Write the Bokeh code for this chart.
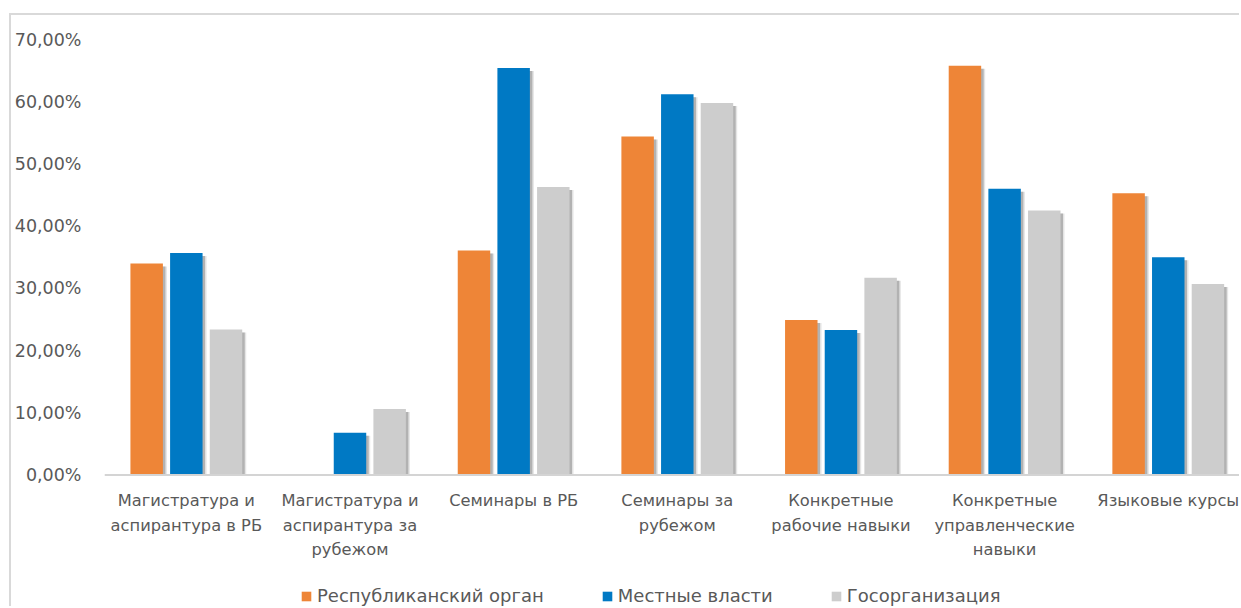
from bokeh.plotting import figure
from bokeh.models import (ColumnDataSource, Range1d, FixedTicker, Span,
                          CustomJSTickFormatter, Legend, LegendItem)
from bokeh.core.properties import value
from bokeh.embed import file_html
from bokeh.resources import INLINE

# Training types (x-axis categories, line breaks as printed under the axis)
categories = [
    "Магистратура и\nаспирантура в РБ",
    "Магистратура и\nаспирантура за\nрубежом",
    "Семинары в РБ",
    "Семинары за\nрубежом",
    "Конкретные\nрабочие навыки",
    "Конкретные\nуправленческие\nнавыки",
    "Языковые курсы",
]

series_names = ["Республиканский орган", "Местные власти", "Госорганизация"]

# Share of respondents, percent
republican = [34.0, 0.0, 36.1, 54.4, 24.9, 65.8, 45.3]
local_gov = [35.7, 6.8, 65.4, 61.2, 23.3, 46.0, 35.0]
state_org = [23.4, 10.6, 46.3, 59.8, 31.7, 42.5, 30.7]

y_ticks = [0, 10, 20, 30, 40, 50, 60, 70]

COLORS = ["#EE8537", "#0079C4", "#CDCDCD"]
FONT = "DejaVu Sans"
TEXT_COLOR = "#595959"

# layout in pixels
WIDTH, HEIGHT = 1230, 593
LEFT, TOP = 92, 24
FRAME_W = WIDTH - LEFT
CAT_PX = 163.8           # width of one category slot
PLOT_H = 435.5           # height of the 0..70 % band
Y_MAX = 70
px_y = Y_MAX / PLOT_H    # percent per pixel
# the frame continues below zero to hold category labels and legend
Y_MIN = -(HEIGHT - TOP - PLOT_H) * px_y

bar_w = 32.5 / CAT_PX
step = 39.7 / CAT_PX
shadow_dx = 2.5 / CAT_PX
shadow_dy = 3.0 * px_y

p = figure(
    width=WIDTH, height=HEIGHT,
    x_range=Range1d(0, FRAME_W / CAT_PX),
    y_range=Range1d(Y_MIN, Y_MAX),
    output_backend="svg", toolbar_location=None,
    min_border_left=LEFT, min_border_top=TOP,
    min_border_right=0, min_border_bottom=0,
    outline_line_color=None,
    background_fill_color="white", border_fill_color="white",
)
p.margin = (13, 0, 0, 9)
p.styles = {"border-top": "2px solid #D9D9D9", "border-left": "2px solid #D9D9D9"}

p.xgrid.visible = False
p.ygrid.visible = False
p.xaxis.visible = False

centers = [i + 0.5 for i in range(len(categories))]
all_series = [republican, local_gov, state_org]
renderers = []
for k, (vals, color) in enumerate(zip(all_series, COLORS)):
    xs = [c + (k - 1) * step for c in centers]
    sh_top = [max(v - shadow_dy, 0) for v in vals]
    # soft drop shadow to the right of each bar
    p.vbar(x=[x + shadow_dx * 1.6 for x in xs], top=sh_top, width=bar_w,
           fill_color="#7F7F7F", fill_alpha=0.2, line_color=None)
    p.vbar(x=[x + shadow_dx for x in xs], top=sh_top, width=bar_w,
           fill_color="#7F7F7F", fill_alpha=0.5, line_color=None)
    src = ColumnDataSource(dict(x=xs, top=vals))
    r = p.vbar(x="x", top="top", width=bar_w, source=src,
               fill_color=color, line_color=None)
    renderers.append(r)

# category axis line
p.add_layout(Span(location=0, dimension="width", line_color="#D4D4D4", line_width=2))

# category labels under the axis line
p.text(x=centers, y=[0] * len(centers), text=categories,
       y_offset=16, text_align="center", text_baseline="top",
       text_font=value(FONT), text_font_size="16.3px", text_color=TEXT_COLOR,
       text_line_height=1.3)

# y axis
yax = p.yaxis[0]
yax.ticker = FixedTicker(ticks=y_ticks)
yax.formatter = CustomJSTickFormatter(
    code="return tick.toFixed(2).replace('.', ',') + '%';")
yax.axis_line_color = None
yax.major_tick_line_color = None
yax.minor_tick_line_color = None
yax.major_tick_in = 0
yax.major_tick_out = 0
yax.major_label_standoff = 23
yax.major_label_text_font = FONT
yax.major_label_text_font_size = "17.5px"
yax.major_label_text_color = TEXT_COLOR

legend = Legend(
    items=[LegendItem(label=n, renderers=[r]) for n, r in zip(series_names, renderers)],
    orientation="horizontal",
    location=(196, 2),
    padding=0, margin=0, spacing=57,
    glyph_width=12, glyph_height=12, label_standoff=5, label_height=20,
    border_line_color=None, background_fill_alpha=0,
    label_text_font=FONT, label_text_font_size="18px",
    label_text_color=TEXT_COLOR,
)
p.add_layout(legend, "center")

open("out.html", "w").write(file_html(p, INLINE))
